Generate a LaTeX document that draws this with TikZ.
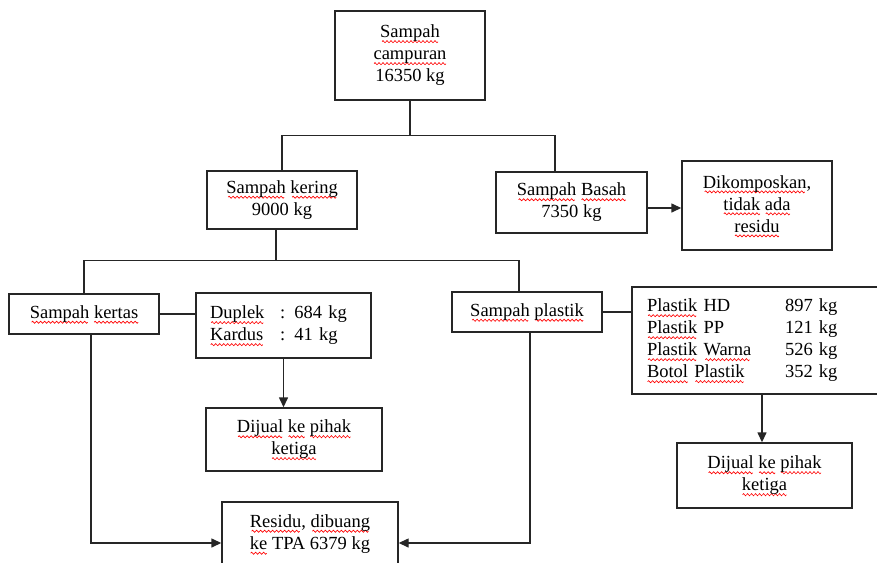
\documentclass[tikz,border=0pt]{standalone}
\usepackage{fontspec}
\setmainfont{Liberation Serif}
\usetikzlibrary{arrows.meta,calc}
\newsavebox{\sqbox}
\newcommand{\sqwavebox}{\begin{pgfpicture}%
  \pgfsetlinewidth{0.65pt}\pgfsetstrokecolor{red}%
  \pgfpathmoveto{\pgfpoint{0pt}{0pt}}%
  \pgfpathcurveto{\pgfpoint{0.9pt}{1.4pt}}{\pgfpoint{1.1pt}{1.4pt}}{\pgfpoint{2pt}{0pt}}%
  \pgfpathcurveto{\pgfpoint{2.9pt}{-1.4pt}}{\pgfpoint{3.1pt}{-1.4pt}}{\pgfpoint{4pt}{0pt}}%
  \pgfusepath{stroke}%
  \pgfresetboundingbox
  \pgfpathrectangle{\pgfpointorigin}{\pgfpoint{4pt}{0pt}}%
  \pgfusepath{use as bounding box}%
\end{pgfpicture}}
\newcommand{\sq}[1]{\leavevmode\sbox{\sqbox}{#1}\rlap{\lower3.8pt\hbox to \wd\sqbox{\cleaders\hbox{\sqwavebox}\hfil}}\usebox{\sqbox}}
\newcommand{\cola}[2]{\makebox[#1][l]{#2}}
\begin{document}
\begin{tikzpicture}[x=1pt,y=-1pt,
  box/.style={draw=black!85, line width=1.4pt, align=center, inner sep=0pt,
    font=\fontsize{18.5}{22}\selectfont},
  ln/.style={draw=black!85, line width=1.4pt},
  arr/.style={ln, -{Triangle[length=10pt,width=9pt]}}]
\useasboundingbox (0,0) rectangle (877,562);

\node[box, minimum width=150pt, minimum height=89pt] (top) at (410,55.5) {\sq{Sampah}\\\sq{campuran}\\16350 kg};
\node[box, minimum width=150pt, minimum height=58pt] (kering) at (282,200) {\sq{Sampah} \sq{kering}\\9000 kg};
\node[box, minimum width=151pt, minimum height=61pt] (basah) at (571.5,202.5) {\sq{Sampah} \sq{Basah}\\7350 kg};
\node[box, minimum width=150pt, minimum height=89pt] (dik) at (757,205.5) {\sq{Dikomposkan},\\\sq{tidak} \sq{ada}\\\sq{residu}};
\node[box, minimum width=150pt, minimum height=40pt] (kertas) at (84,314) {\sq{Sampah} \sq{kertas}};
\node[box, minimum width=175pt, minimum height=65pt, text width=147pt, align=left] (duplek) at (283.5,325.5)
  {\begin{tabular}{@{}l@{}l@{}}\cola{70pt}{\sq{Duplek}} & : 684 kg\\ \cola{70pt}{\sq{Kardus}} & : 41 kg\end{tabular}};
\node[box, minimum width=176pt, minimum height=63pt] (dijualA) at (294,439.5) {\sq{Dijual} \sq{ke} \sq{pihak}\\\sq{ketiga}};
\node[box, minimum width=150pt, minimum height=40pt] (plastik) at (527,312) {\sq{Sampah} \sq{plastik}};
\node[box, minimum width=248pt, minimum height=107pt, text width=218pt, align=left] (list) at (756,340.5)
  {\begin{tabular}{@{}l@{}l@{}}\cola{138pt}{\sq{Plastik} HD} & 897 kg\\ \cola{138pt}{\sq{Plastik} PP} & 121 kg\\ \cola{138pt}{\sq{Plastik} \sq{Warna}} & 526 kg\\ \cola{138pt}{\sq{Botol} \sq{Plastik}} & 352 kg\end{tabular}};
\node[box, minimum width=175pt, minimum height=65pt] (dijualB) at (764.5,475.5) {\sq{Dijual} \sq{ke} \sq{pihak}\\\sq{ketiga}};
\node[box, minimum width=176pt, minimum height=64pt] (residu) at (310,534) {\sq{Residu}, \sq{dibuang}\\\sq{ke} TPA 6379 kg};

% connectors
\draw[ln] (top.south) -- ++(0,35) coordinate (j1);
\draw[ln] (kering.north) |- (j1) -| ([xshift=-16.5pt]basah.north);
\draw[arr] ([yshift=-5.5pt]basah.east) -- ([yshift=-5.5pt]basah.east -| dik.west);
\draw[ln] ([xshift=-6pt]kering.south) -- ++(0,31) coordinate (j2);
\draw[ln] (kertas.north) |- (j2) -| ([xshift=-8pt]plastik.north);
\draw[ln] (kertas.east) -- (kertas.east -| duplek.west);
\draw[arr] (duplek.south) -- (duplek.south |- dijualA.north);
\draw[ln] (plastik.east) -- (plastik.east -| list.west);
\draw[arr] ([xshift=-2.5pt]dijualB.north |- list.south) -- ([xshift=-2.5pt]dijualB.north);
\draw[arr] ([xshift=7pt]kertas.south) |- ([yshift=-9pt]residu.west);
\draw[arr] ([xshift=3pt]plastik.south) |- ([yshift=-9pt]residu.east);
\end{tikzpicture}
\end{document}
